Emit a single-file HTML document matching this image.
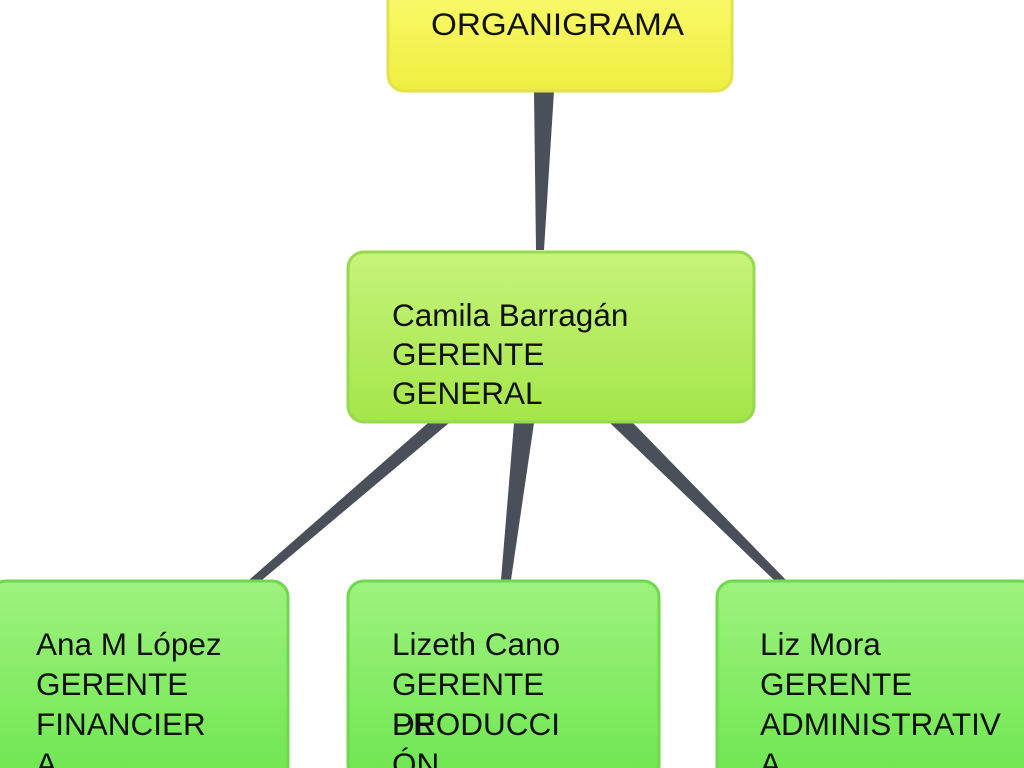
<!DOCTYPE html>
<html><head><meta charset="utf-8"><style>
html,body{margin:0;padding:0;background:#fff;width:1024px;height:768px;overflow:hidden}
svg text{font-family:"Liberation Sans",sans-serif;font-size:31.5px;fill:#111}
</style></head><body>
<svg width="1024" height="768" viewBox="0 0 1024 768" xmlns="http://www.w3.org/2000/svg">
<defs>
<linearGradient id="y" x1="0" y1="0" x2="0" y2="1"><stop offset="0" stop-color="#fbfb70"/><stop offset="1" stop-color="#eeee40"/></linearGradient>
<linearGradient id="g1" x1="0" y1="0" x2="0" y2="1"><stop offset="0" stop-color="#c6f47a"/><stop offset="1" stop-color="#a4e64a"/></linearGradient>
<linearGradient id="g2" x1="0" y1="0" x2="0" y2="1"><stop offset="0" stop-color="#9ef27e"/><stop offset="1" stop-color="#6ee650"/></linearGradient>
</defs>
<g fill="#4a4f5a">
<polygon points="534,91 554,91 544,250 536,250"/>
<polygon points="428,423 449,423 262,580 249,580"/>
<polygon points="514,423 534,423 511,580 501,580"/>
<polygon points="610,423 633,423 786,580 774,580"/>
</g>
<rect x="388" y="-20" width="344" height="111" rx="16" fill="url(#y)" stroke="#e2e24a" stroke-width="3"/>
<text x="431" y="35" textLength="253" lengthAdjust="spacingAndGlyphs">ORGANIGRAMA</text>
<rect x="348" y="252" width="406" height="170" rx="16" fill="url(#g1)" stroke="#98d850" stroke-width="3"/>
<text x="392" y="326">Camila Barragán</text>
<text x="392" y="365">GERENTE</text>
<text x="392" y="404">GENERAL</text>
<rect x="-10" y="581" width="298" height="200" rx="16" fill="url(#g2)" stroke="#6ed84e" stroke-width="3"/>
<rect x="348" y="581" width="311" height="200" rx="16" fill="url(#g2)" stroke="#6ed84e" stroke-width="3"/>
<rect x="717" y="581" width="320" height="200" rx="16" fill="url(#g2)" stroke="#6ed84e" stroke-width="3"/>
<text x="36" y="655">Ana M López</text>
<text x="36" y="695">GERENTE</text>
<text x="36" y="735">FINANCIER</text>
<text x="36" y="775">A</text>
<text x="392" y="655">Lizeth Cano</text>
<text x="392" y="695">GERENTE</text>
<text x="392" y="735">DE</text>
<text x="392" y="735">PRODUCCI</text>
<text x="392" y="775">ÓN</text>
<text x="760" y="655">Liz Mora</text>
<text x="760" y="695">GERENTE</text>
<text x="760" y="735">ADMINISTRATIV</text>
<text x="760" y="775">A</text>
</svg>
</body></html>
